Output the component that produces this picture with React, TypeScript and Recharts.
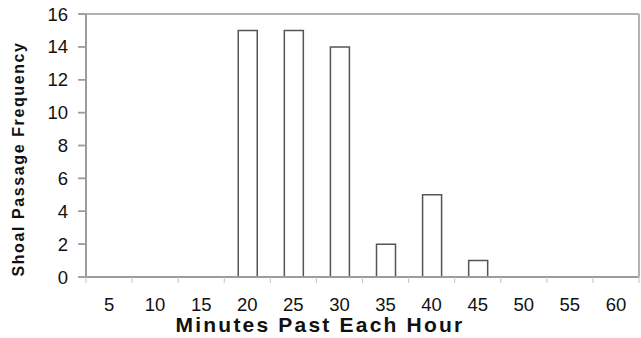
import { BarChart, Bar, XAxis, YAxis, ReferenceLine } from 'recharts';

// minutes past the hour (category labels)
const MINUTES = ['5', '10', '15', '20', '25', '30', '35', '40', '45', '50', '55', '60'];
// shoal passages counted in each 5-minute bin
const PASSAGES = [0, 0, 0, 15, 15, 14, 2, 5, 1, 0, 0, 0];
const Y_TICKS = [0, 2, 4, 6, 8, 10, 12, 14, 16];
// bin edges, used only for the small tick marks between labels
const BIN_EDGES = [0, 1, 2, 3, 4, 5, 6, 7, 8, 9, 10, 11, 12];

const data = MINUTES.map((m, i) => ({ minute: m, passages: PASSAGES[i] }));

const FONT = 'Arial, "Liberation Sans", sans-serif';
const AXIS_GRAY = '#9c9c9c';
const BORDER_GRAY = '#b3b3b3';

// axis titles sit on their own svg layer above the chart
function AxisTitles() {
  return (
    <svg
      width={641}
      height={338}
      style={{ position: 'absolute', left: 0, top: 0, pointerEvents: 'none' }}
    >
      <text
        x={320}
        y={332}
        textAnchor="middle"
        fill="#111"
        style={{ fontFamily: FONT, fontSize: 21, fontWeight: 'bold', letterSpacing: 2.2 }}
      >
        Minutes Past Each Hour
      </text>
      <text
        x={24}
        y={159}
        transform="rotate(-90 24 159)"
        textAnchor="middle"
        fill="#111"
        style={{ fontFamily: FONT, fontSize: 16, fontWeight: 'bold', letterSpacing: 1.6 }}
      >
        Shoal Passage Frequency
      </text>
    </svg>
  );
}

export default function App() {
  return (
    <div style={{ position: 'absolute', left: 0, top: 0, width: 641, height: 338, background: '#fff' }}>
      <BarChart
        width={641}
        height={338}
        data={data}
        margin={{ top: 13, right: 1, bottom: 0, left: 0 }}
      >
        {/* tick marks at bin edges, sits directly on the plot */}
        <XAxis
          xAxisId="a"
          type="number"
          dataKey={() => 0}
          domain={[0, 12]}
          ticks={BIN_EDGES}
          allowDataOverflow
          height={1}
          axisLine={{ stroke: AXIS_GRAY, strokeWidth: 2 }}
          tickLine={{ stroke: '#c4c4c4', strokeWidth: 1 }}
          tickSize={6}
          tick={() => <g />}
        />
        <XAxis
          xAxisId="b"
          dataKey="minute"
          height={60}
          axisLine={{ stroke: 'transparent' }}
          tickLine={{ stroke: 'transparent' }}
          tickSize={6}
          tickMargin={14}
          interval={0}
          tick={{ fill: '#111', fontSize: 18.5, fontFamily: FONT }}
        />
        <XAxis
          xAxisId="top"
          orientation="top"
          height={1}
          tick={false}
          tickLine={false}
          axisLine={{ stroke: BORDER_GRAY, strokeWidth: 2 }}
        />
        <YAxis
          width={86}
          domain={[0, 16]}
          ticks={Y_TICKS}
          axisLine={{ stroke: AXIS_GRAY, strokeWidth: 2 }}
          tickLine={{ stroke: AXIS_GRAY, strokeWidth: 1.5 }}
          tickSize={8}
          tickMargin={10}
          tick={{ fill: '#111', fontSize: 18.5, fontFamily: FONT }}
        />
        <YAxis
          yAxisId="r"
          orientation="right"
          width={1}
          domain={[0, 16]}
          tick={false}
          tickLine={false}
          axisLine={{ stroke: BORDER_GRAY, strokeWidth: 2 }}
        />
        {/* left spine and its tick marks */}
        <ReferenceLine xAxisId="a" x={0} stroke={AXIS_GRAY} strokeWidth={2} ifOverflow="visible" />
        {Y_TICKS.map((t) => (
          <ReferenceLine
            key={`yt-${t}`}
            xAxisId="a"
            segment={[
              { x: -0.16, y: t },
              { x: 0, y: t },
            ]}
            stroke={AXIS_GRAY}
            strokeWidth={1.5}
            ifOverflow="visible"
          />
        ))}
        <Bar
          xAxisId="b"
          dataKey="passages"
          barSize={19}
          fill="#fff"
          stroke="#555"
          strokeWidth={1.5}
          isAnimationActive={false}
        />
      </BarChart>
      <AxisTitles />
    </div>
  );
}
